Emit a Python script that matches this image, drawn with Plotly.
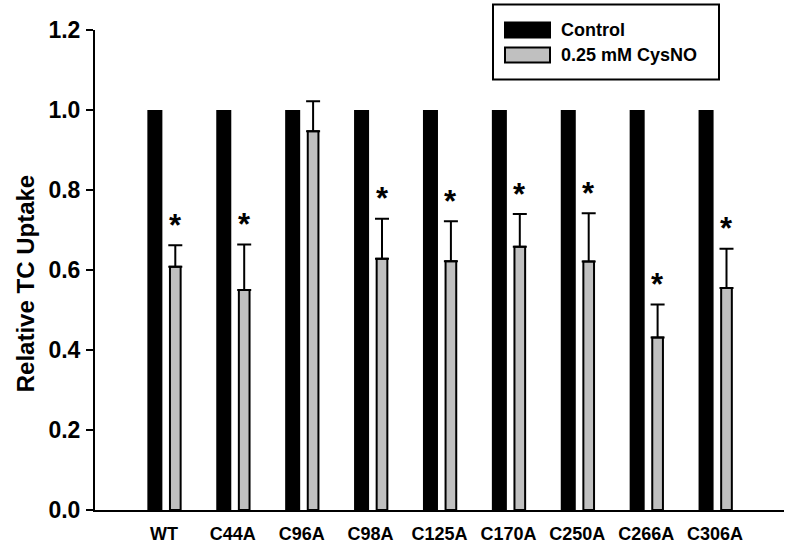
import plotly.graph_objects as go

categories = ["WT", "C44A", "C96A", "C98A", "C125A", "C170A", "C250A", "C266A", "C306A"]
series_names = ["Control", "0.25 mM CysNO"]
control = [1.0, 1.0, 1.0, 1.0, 1.0, 1.0, 1.0, 1.0, 1.0]
cysno = [0.608, 0.550, 0.947, 0.628, 0.622, 0.658, 0.621, 0.431, 0.555]
cysno_err = [0.054, 0.114, 0.075, 0.100, 0.100, 0.082, 0.121, 0.083, 0.098]
significant = [True, True, False, True, True, True, True, True, True]
y_ticks = [0.0, 0.2, 0.4, 0.6, 0.8, 1.0, 1.2]

W, H = 786, 546
L, R, T, B = 95, 2, 29.5, 36
FONT = "Arial, Liberation Sans, Helvetica, sans-serif"
GRAY = "#c0c0c0"

x = list(range(len(categories)))

def px2paper(px, py):
    return (px - L) / (W - L - R), 1 - (py - T) / (H - T - B)

fig = go.Figure()
fig.add_trace(go.Bar(
    x=x, y=control, name=series_names[0], width=0.218, offset=-0.24,
    marker=dict(color="black", line=dict(color="black", width=0)),
    showlegend=False,
))
fig.add_trace(go.Bar(
    x=x, y=cysno, name=series_names[1], width=0.155, offset=0.088,
    marker=dict(color=GRAY, line=dict(color="black", width=2)),
    error_y=dict(type="data", array=cysno_err, arrayminus=[0] * len(cysno_err),
                 symmetric=False, color="black", thickness=2, width=7),
    showlegend=False,
))

shapes = []
annotations = []
# significance asterisks
for xi, v, e, s in zip(x, cysno, cysno_err, significant):
    if s:
        annotations.append(dict(x=xi + 0.088 + 0.155 / 2, y=v + e, xref="x", yref="y",
                                text="<b>*</b>", showarrow=False, xanchor="center",
                                yanchor="middle", yshift=20,
                                font=dict(family=FONT, size=31, color="black")))

# legend box
x0, y0 = px2paper(493, 4)
x1, y1 = px2paper(719, 79)
shapes.append(dict(type="rect", xref="paper", yref="paper", x0=x0, y0=y0, x1=x1, y1=y1,
                   line=dict(color="black", width=2), fillcolor="white", layer="above"))
sw = [("black", 22, 37, 30), (GRAY, 47, 62, 55)]
for (col, ya, yb, yc), nm in zip(sw, series_names):
    ax0, ay0 = px2paper(505, ya)
    ax1, ay1 = px2paper(550, yb)
    shapes.append(dict(type="rect", xref="paper", yref="paper", x0=ax0, y0=ay0, x1=ax1, y1=ay1,
                       line=dict(color="black", width=2), fillcolor=col, layer="above"))
    tx, ty = px2paper(559, yc)
    annotations.append(dict(xref="paper", yref="paper", x=tx, y=ty, text="<b>%s</b>" % nm,
                            showarrow=False, xanchor="left", yanchor="middle",
                            font=dict(family=FONT, size=18, color="black")))
# y axis title
tx, ty = px2paper(25, 284)
annotations.append(dict(xref="paper", yref="paper", x=tx, y=ty, text="<b>Relative TC Uptake</b>",
                        textangle=-90, showarrow=False, xanchor="center", yanchor="middle",
                        font=dict(family=FONT, size=24, color="black")))

fig.update_layout(
    width=W, height=H, margin=dict(l=L, r=R, t=T, b=B, pad=0),
    paper_bgcolor="white", plot_bgcolor="white",
    barmode="overlay", showlegend=False,
    shapes=shapes, annotations=annotations,
    font=dict(family=FONT, color="black"),
)
fig.update_xaxes(
    range=[-1, 9], tickvals=x, ticktext=["<b>%s</b>" % c for c in categories],
    tickfont=dict(family=FONT, size=18, color="black"),
    showgrid=False, zeroline=False, showline=True, linecolor="black", linewidth=2,
    ticks="", ticklabelstandoff=6,
)
fig.update_yaxes(
    range=[0, 1.2], tickvals=y_ticks, ticktext=["<b>%.1f</b>" % v for v in y_ticks],
    tickfont=dict(family=FONT, size=23, color="black"),
    showgrid=False, zeroline=False, showline=True, linecolor="black", linewidth=2,
    ticks="outside", ticklen=7, tickwidth=2, tickcolor="black", ticklabelstandoff=1,
)
fig.write_html("out.html", config={"displayModeBar": False},
               post_script="document.body.style.margin='0px';")
